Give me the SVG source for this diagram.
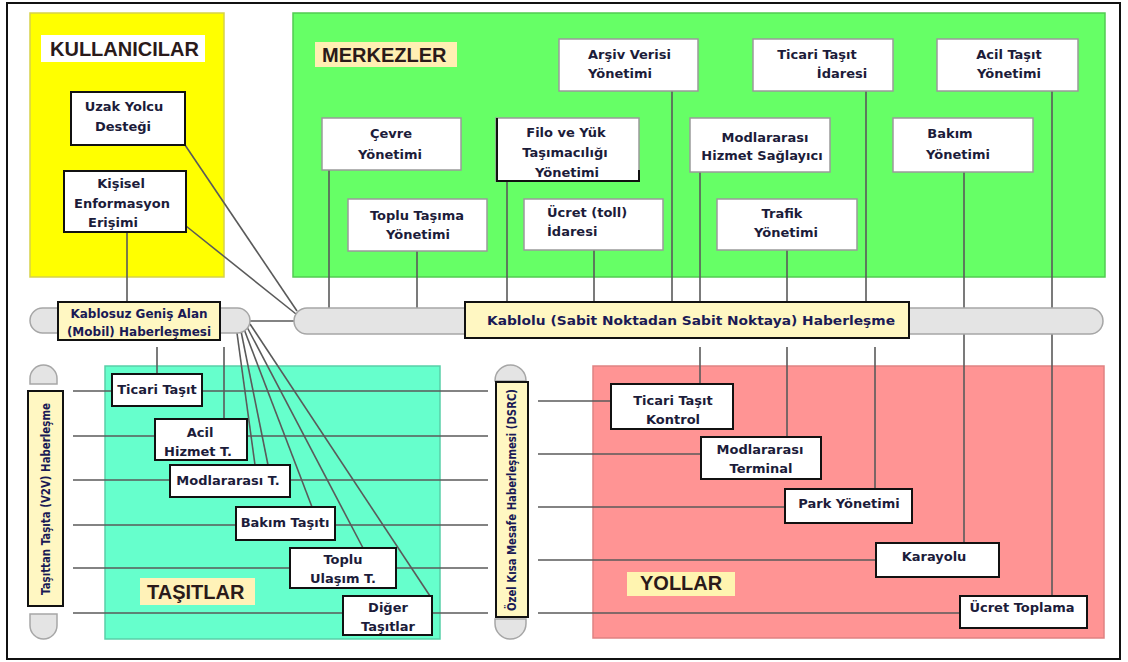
<svg xmlns="http://www.w3.org/2000/svg" width="1128" height="662" viewBox="0 0 1128 662">
  <style>
    .frame { fill: none; stroke: #111; stroke-width: 2; }
    .pnl-users { fill: #ffff00; stroke: #d6d24a; stroke-width: 1.5; }
    .pnl-centers { fill: #66ff66; stroke: #52cc52; stroke-width: 1.5; }
    .pnl-vehicles { fill: #66ffcc; stroke: #58cfa8; stroke-width: 1.5; }
    .pnl-roads { fill: #ff9494; stroke: #e08282; stroke-width: 1.5; }
    .box { fill: #fff; stroke: #9a9a9a; stroke-width: 1.5; }
    .kbox { fill: #fff; stroke: #111; stroke-width: 2; }
    .bus { fill: #e4e4e4; stroke: #a6a6a6; stroke-width: 1.5; }
    .tag { fill: #fff7c2; stroke: #111; stroke-width: 2; }
    .wire { fill: none; stroke: #5a5a5a; stroke-width: 1.6; }
    .t { font-family: "DejaVu Sans", "Liberation Sans", sans-serif; font-weight: bold; font-size: 13px; fill: #1c1c3a; text-anchor: middle; }
    .t.left { text-anchor: start; }
    .ts { font-family: "DejaVu Sans", "Liberation Sans", sans-serif; font-weight: bold; font-size: 12px; fill: #1a1a55; }
    .title { font-family: "Liberation Sans", Arial, sans-serif; font-weight: bold; font-size: 20px; fill: #2a1a1a; }
  </style>

  <rect x="0" y="0" width="1128" height="662" fill="#fff"/>
  <rect class="frame" x="7" y="3" width="1113" height="656"/>

  <!-- domain panels -->
  <g id="panels">
    <rect class="pnl-users" x="30" y="13" width="194" height="264"/>
    <rect class="pnl-centers" x="293" y="13" width="812" height="264"/>
    <rect class="pnl-vehicles" x="105" y="366" width="335" height="273"/>
    <rect class="pnl-roads" x="593" y="366" width="511" height="272"/>
  </g>

  <!-- connectors -->
  <g id="connectors" class="wire">
    <!-- users to wired backbone -->
    <path d="M185,145 L297,311"/>
    <path d="M186,226 L296,314"/>
    <path d="M127,232 V302"/>
    <path d="M250,321 H294"/>
    <!-- wireless to vehicles -->
    <path d="M157,347 V374"/>
    <path d="M224,347 V419"/>
    <path d="M237,333 L255,465"/>
    <path d="M241,331 L268,465"/>
    <path d="M244,329 L312,507"/>
    <path d="M247,327 L363,548"/>
    <path d="M250,324 L430,596"/>
    <!-- centers to wired backbone -->
    <path d="M329,170 V308"/>
    <path d="M417,251 V308"/>
    <path d="M507,181 V308"/>
    <path d="M594,250 V302"/>
    <path d="M672,91 V308"/>
    <path d="M700,172 V308"/>
    <path d="M787,250 V308"/>
    <path d="M866,91 V308"/>
    <path d="M964,172 V543"/>
    <path d="M1052,91 V596"/>
    <!-- wired backbone to roads -->
    <path d="M700,347 V384"/>
    <path d="M787,347 V437"/>
    <path d="M875,347 V489"/>
    <!-- vehicle to vehicle -->
    <path d="M73,391 H488"/>
    <path d="M73,436 H488"/>
    <path d="M73,480 H488"/>
    <path d="M73,525 H488"/>
    <path d="M73,568 H488"/>
    <path d="M73,613 H488"/>
    <!-- short range to roads -->
    <path d="M538,401 H611"/>
    <path d="M538,454 H701"/>
    <path d="M538,507 H785"/>
    <path d="M538,560 H876"/>
    <path d="M538,613 H960"/>
  </g>

  <!-- communication buses -->
  <g id="bus-wireless">
    <rect class="bus" x="30" y="308" width="220" height="25" rx="12.5"/>
    <rect class="tag" x="58" y="302" width="162" height="38"/>
    <text class="ts" x="139" y="318" text-anchor="middle" font-size="11.5">Kablosuz Geniş Alan</text>
    <text class="ts" x="139" y="336" text-anchor="middle" font-size="11.5">(Mobil) Haberleşmesi</text>
  </g>
  <g id="bus-wired">
    <rect class="bus" x="294" y="308" width="809" height="26" rx="13"/>
    <rect class="tag" x="465" y="302" width="444" height="36"/>
    <text class="ts" x="487" y="325" textLength="408" lengthAdjust="spacingAndGlyphs">Kablolu (Sabit Noktadan Sabit Noktaya) Haberleşme</text>
  </g>
  <g id="bus-v2v">
    <path class="bus" d="M30,384 V378.5 A13.5,13.5 0 0 1 57,378.5 V384 Z"/>
    <path class="bus" d="M30,614 V625.5 A13.5,13.5 0 0 0 57,625.5 V614 Z"/>
    <rect class="tag" x="28" y="391" width="35" height="215"/>
    <text class="ts" transform="translate(50,499) rotate(-90)" text-anchor="middle" font-size="11" textLength="192" lengthAdjust="spacingAndGlyphs">Taşıttan Taşıta (V2V) Haberleşme</text>
  </g>
  <g id="bus-dsrc">
    <path class="bus" d="M495,381 V380.5 A15.5,15.5 0 0 1 526,380.5 V381 Z"/>
    <path class="bus" d="M495,619 V623.5 A15.5,15.5 0 0 0 526,623.5 V619 Z"/>
    <rect class="tag" x="496" y="382" width="32" height="235"/>
    <text class="ts" transform="translate(516,500) rotate(-90)" text-anchor="middle" font-size="10.5" font-weight="normal" textLength="222" lengthAdjust="spacingAndGlyphs">Özel Kısa Mesafe Haberleşmesi (DSRC)</text>
  </g>

  <!-- users -->
  <g id="title-users">
    <rect x="41" y="35" width="164" height="27" fill="#fff"/>
    <text class="title" x="50" y="56">KULLANICILAR</text>
  </g>
  <g id="node-uzak-yolcu">
    <rect class="kbox" x="71" y="92" width="114" height="53" stroke="#333"/>
    <text class="t" x="124" y="111">Uzak Yolcu</text>
    <text class="t" x="123" y="131">Desteği</text>
  </g>
  <g id="node-kisisel">
    <rect class="kbox" x="64" y="171" width="122" height="61"/>
    <text class="t" x="121" y="188">Kişisel</text>
    <text class="t" x="122" y="208">Enformasyon</text>
    <text class="t" x="113" y="227">Erişimi</text>
  </g>

  <!-- centers -->
  <g id="title-centers">
    <rect x="315" y="42" width="142" height="25" fill="#ffefb3"/>
    <text class="title" x="322" y="62">MERKEZLER</text>
  </g>
  <g id="node-arsiv">
    <rect class="box" x="559" y="39" width="139" height="52"/>
    <text class="t left" x="588" y="59">Arşiv Verisi</text>
    <text class="t left" x="588" y="78">Yönetimi</text>
  </g>
  <g id="node-ticari-idare">
    <rect class="box" x="753" y="39" width="140" height="52"/>
    <text class="t" x="817" y="59">Ticari Taşıt</text>
    <text class="t" x="842" y="78">İdaresi</text>
  </g>
  <g id="node-acil-yonetim">
    <rect class="box" x="937" y="39" width="141" height="52"/>
    <text class="t" x="1009" y="59">Acil Taşıt</text>
    <text class="t" x="1009" y="78">Yönetimi</text>
  </g>
  <g id="node-cevre">
    <rect class="box" x="322" y="118" width="139" height="52"/>
    <text class="t" x="391" y="138">Çevre</text>
    <text class="t" x="390" y="159">Yönetimi</text>
  </g>
  <g id="node-filo">
    <rect class="box" x="496" y="118" width="143" height="63"/>
    <path d="M497,118 V181 H639 V170" fill="none" stroke="#111" stroke-width="2"/>
    <text class="t" x="566" y="137">Filo ve Yük</text>
    <text class="t" x="565" y="157">Taşımacılığı</text>
    <text class="t" x="567" y="177">Yönetimi</text>
  </g>
  <g id="node-modlar-hizmet">
    <rect class="box" x="690" y="118" width="140" height="54"/>
    <text class="t" x="765" y="142">Modlararası</text>
    <text class="t" x="762" y="160">Hizmet Sağlayıcı</text>
  </g>
  <g id="node-bakim-yonetim">
    <rect class="box" x="893" y="118" width="140" height="54"/>
    <text class="t" x="950" y="138">Bakım</text>
    <text class="t" x="958" y="159">Yönetimi</text>
  </g>
  <g id="node-toplu-yonetim">
    <rect class="box" x="348" y="199" width="139" height="52"/>
    <text class="t" x="417" y="220">Toplu Taşıma</text>
    <text class="t" x="418" y="239">Yönetimi</text>
  </g>
  <g id="node-ucret-idare">
    <rect class="box" x="524" y="199" width="139" height="51"/>
    <text class="t left" x="547" y="217">Ücret (toll)</text>
    <text class="t left" x="547" y="236">İdaresi</text>
  </g>
  <g id="node-trafik">
    <rect class="box" x="717" y="199" width="140" height="51"/>
    <text class="t" x="782" y="218">Trafik</text>
    <text class="t" x="786" y="237">Yönetimi</text>
  </g>

  <!-- vehicles -->
  <g id="title-vehicles">
    <rect x="140" y="578" width="115" height="27" fill="#fff2b8"/>
    <text class="title" x="147" y="599">TAŞITLAR</text>
  </g>
  <g id="node-ticari-tasit">
    <rect class="kbox" x="112" y="374" width="90" height="32"/>
    <text class="t" x="157" y="394">Ticari Taşıt</text>
  </g>
  <g id="node-acil-hizmet">
    <rect class="kbox" x="155" y="419" width="92" height="41"/>
    <text class="t" x="200" y="437">Acil</text>
    <text class="t" x="198" y="456">Hizmet T.</text>
  </g>
  <g id="node-modlar-tasit">
    <rect class="kbox" x="170" y="465" width="120" height="32"/>
    <text class="t" x="228" y="485">Modlararası T.</text>
  </g>
  <g id="node-bakim-tasit">
    <rect class="kbox" x="236" y="507" width="99" height="33"/>
    <text class="t" x="285" y="527">Bakım Taşıtı</text>
  </g>
  <g id="node-toplu-ulasim">
    <rect class="kbox" x="290" y="548" width="106" height="40"/>
    <text class="t" x="343" y="564">Toplu</text>
    <text class="t" x="343" y="583">Ulaşım T.</text>
  </g>
  <g id="node-diger">
    <rect class="kbox" x="343" y="596" width="89" height="39"/>
    <text class="t" x="388" y="612">Diğer</text>
    <text class="t" x="388" y="631">Taşıtlar</text>
  </g>

  <!-- roads -->
  <g id="title-roads">
    <rect x="627" y="572" width="108" height="24" fill="#fff4b0"/>
    <text class="title" x="640" y="590">YOLLAR</text>
  </g>
  <g id="node-ticari-kontrol">
    <rect class="kbox" x="611" y="384" width="122" height="45"/>
    <text class="t" x="673" y="405">Ticari Taşıt</text>
    <text class="t" x="673" y="424">Kontrol</text>
  </g>
  <g id="node-terminal">
    <rect class="kbox" x="701" y="437" width="120" height="42"/>
    <text class="t" x="760" y="454">Modlararası</text>
    <text class="t" x="761" y="473">Terminal</text>
  </g>
  <g id="node-park">
    <rect class="kbox" x="785" y="489" width="127" height="34"/>
    <text class="t" x="849" y="508">Park Yönetimi</text>
  </g>
  <g id="node-karayolu">
    <rect class="kbox" x="876" y="543" width="123" height="34"/>
    <text class="t" x="934" y="561">Karayolu</text>
  </g>
  <g id="node-ucret-toplama">
    <rect class="kbox" x="960" y="596" width="127" height="32"/>
    <text class="t" x="1022" y="612">Ücret Toplama</text>
  </g>
</svg>
